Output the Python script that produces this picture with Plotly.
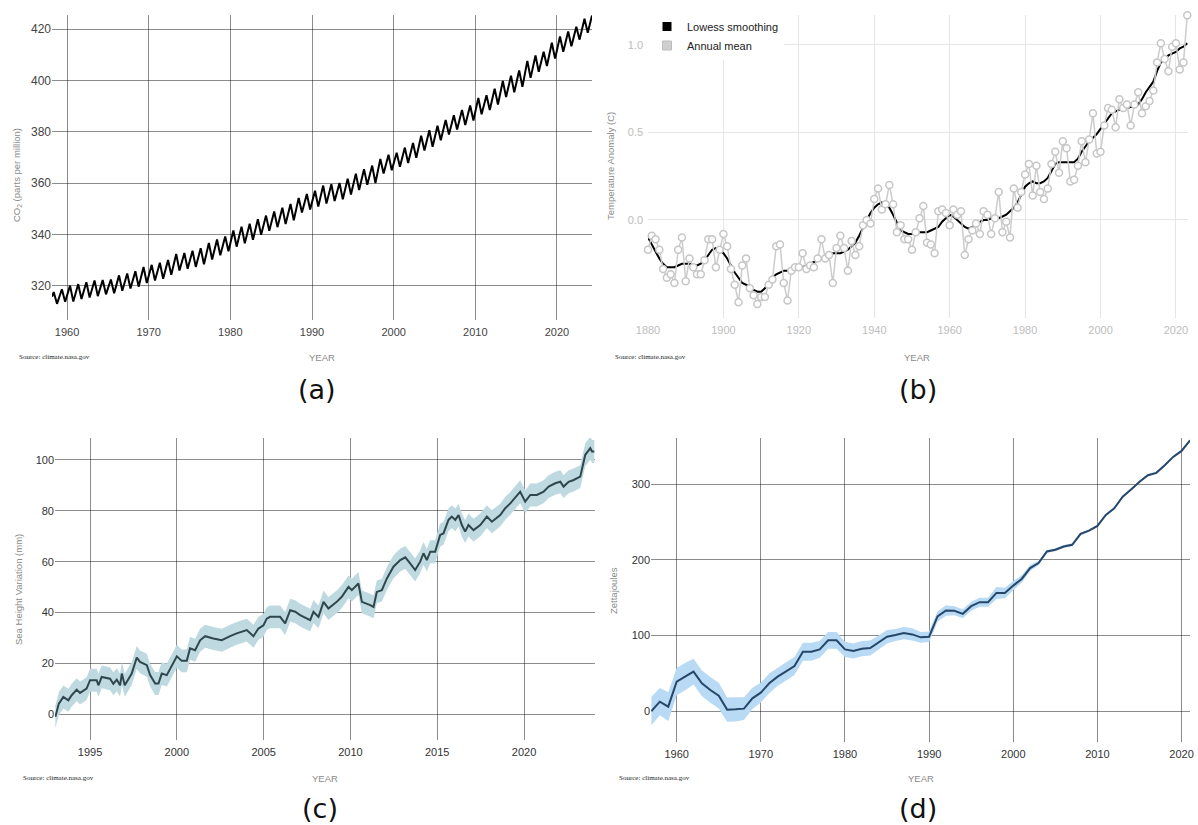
import plotly.graph_objects as go

# ---------------- (a) Atmospheric CO2, Mauna Loa ----------------
co2_years = list(range(1958, 2024))
# May maximum of each year (ppm)
co2_may_peak = [
    317.5, 318.6,
    320.0, 320.6, 321.3, 322.0, 322.2, 322.4, 324.0, 324.7, 325.6, 327.3,
    328.1, 328.9, 330.0, 332.3, 332.7, 333.6, 334.6, 336.6, 338.0, 339.2,
    341.5, 343.0, 344.1, 345.9, 347.3, 348.9, 350.4, 351.8, 354.2, 355.7,
    357.0, 359.0, 359.5, 360.0, 361.7, 363.6, 365.4, 366.8, 369.4, 371.0,
    371.8, 373.8, 375.6, 378.4, 380.6, 382.3, 384.6, 386.4, 388.5, 390.2,
    393.2, 394.2, 396.8, 399.8, 401.8, 403.9, 407.6, 409.7, 411.2, 414.7,
    417.1, 419.1, 420.9, 424.0,
]
# Autumn minimum of each year (ppm)
co2_autumn_low = [
    312.9, 313.7,
    313.8, 314.8, 315.4, 315.9, 316.6, 317.0, 318.0, 318.9, 319.6, 321.0,
    322.0, 322.7, 324.2, 325.9, 326.6, 327.3, 328.3, 330.2, 331.8, 333.4,
    335.2, 336.5, 337.9, 339.8, 341.4, 342.8, 344.0, 345.5, 348.5, 349.7,
    350.8, 352.0, 353.0, 353.7, 355.5, 357.3, 359.3, 360.0, 363.7, 365.0,
    366.3, 367.8, 369.8, 372.7, 374.1, 376.7, 378.9, 380.9, 382.6, 384.4,
    386.8, 388.5, 390.6, 393.5, 395.4, 397.5, 401.0, 403.4, 405.6, 408.5,
    411.2, 413.3, 415.9, 418.6,
]
co2_peak_month_frac = 0.37   # May
co2_low_month_frac = 0.77    # early October
co2_first_time, co2_first_value = 1958.17, 315.7   # March 1958
co2_last_time, co2_last_value = 2024.29, 425.3     # April 2024

# ---------------- (b) Global surface temperature anomaly ----------------
temp_years = list(range(1880, 2024))
temp_annual = [
    -0.17, -0.09, -0.11, -0.17, -0.28, -0.33, -0.31, -0.36, -0.17, -0.10,
    -0.35, -0.22, -0.27, -0.31, -0.31, -0.23, -0.11, -0.11, -0.27, -0.17,
    -0.08, -0.15, -0.28, -0.37, -0.47, -0.26, -0.22, -0.39, -0.43, -0.48,
    -0.44, -0.44, -0.37, -0.34, -0.15, -0.14, -0.36, -0.46, -0.29, -0.27,
    -0.27, -0.19, -0.28, -0.26, -0.27, -0.22, -0.11, -0.22, -0.20, -0.36,
    -0.16, -0.09, -0.16, -0.29, -0.12, -0.20, -0.15, -0.03, 0.00, -0.02,
    0.12, 0.18, 0.06, 0.09, 0.20, 0.09, -0.07, -0.03, -0.11, -0.11,
    -0.17, -0.07, 0.01, 0.08, -0.13, -0.14, -0.19, 0.05, 0.06, 0.04,
    -0.03, 0.06, 0.03, 0.05, -0.20, -0.11, -0.06, -0.02, -0.08, 0.05,
    0.03, -0.08, 0.01, 0.16, -0.07, -0.01, -0.10, 0.18, 0.07, 0.16,
    0.26, 0.32, 0.14, 0.31, 0.16, 0.12, 0.18, 0.32, 0.39, 0.27,
    0.45, 0.41, 0.22, 0.23, 0.31, 0.45, 0.33, 0.46, 0.61, 0.38,
    0.39, 0.54, 0.64, 0.63, 0.53, 0.69, 0.64, 0.66, 0.54, 0.66,
    0.73, 0.61, 0.65, 0.68, 0.74, 0.90, 1.01, 0.92, 0.85, 0.99,
    1.01, 0.86, 0.90, 1.17,
]
temp_lowess = [
    -0.10, -0.14, -0.18, -0.22, -0.25, -0.27, -0.27, -0.27, -0.26, -0.25,
    -0.25, -0.25, -0.26, -0.26, -0.25, -0.23, -0.20, -0.17, -0.16, -0.17,
    -0.19, -0.22, -0.26, -0.30, -0.33, -0.36, -0.37, -0.38, -0.40, -0.41,
    -0.41, -0.39, -0.36, -0.33, -0.31, -0.30, -0.29, -0.29, -0.28, -0.28,
    -0.27, -0.27, -0.26, -0.25, -0.24, -0.23, -0.22, -0.21, -0.20, -0.19,
    -0.19, -0.19, -0.18, -0.17, -0.15, -0.13, -0.09, -0.04, 0.00, 0.04,
    0.07, 0.09, 0.10, 0.09, 0.07, 0.03, -0.02, -0.06, -0.07, -0.08,
    -0.08, -0.08, -0.07, -0.07, -0.07, -0.06, -0.05, -0.04, -0.01, 0.01,
    0.03, 0.02, 0.00, -0.02, -0.04, -0.05, -0.04, -0.03, -0.01, 0.00,
    0.00, 0.01, 0.01, 0.01, 0.02, 0.03, 0.05, 0.07, 0.10, 0.15,
    0.19, 0.21, 0.22, 0.21, 0.21, 0.22, 0.24, 0.28, 0.32, 0.33,
    0.33, 0.33, 0.33, 0.33, 0.35, 0.39, 0.42, 0.45, 0.47, 0.49,
    0.52, 0.55, 0.58, 0.61, 0.62, 0.63, 0.63, 0.64, 0.645, 0.65,
    0.66, 0.69, 0.73, 0.76, 0.79, 0.85, 0.90, 0.92, 0.94, 0.95,
    0.96, 0.98, 0.99, 1.01,
]

# ---------------- (c) Satellite sea level ----------------
sea_time = [
    1993.0, 1993.2, 1993.46, 1993.75, 1993.94, 1994.23, 1994.42, 1994.8, 1995.0, 1995.38,
    1995.48, 1995.67, 1996.15, 1996.34, 1996.54, 1996.73, 1996.83, 1997.0, 1997.4, 1997.69,
    1997.88, 1998.27, 1998.46, 1998.75, 1998.94, 1999.13, 1999.42, 1999.71, 2000.0, 2000.28,
    2000.57, 2000.76, 2001.05, 2001.34, 2001.63, 2002.1, 2002.59, 2003.07, 2003.45, 2004.03,
    2004.41, 2004.7, 2004.99, 2005.18, 2005.37, 2005.95, 2006.24, 2006.53, 2006.82, 2007.1,
    2007.68, 2007.87, 2008.16, 2008.45, 2008.73, 2009.21, 2009.5, 2009.89, 2010.08, 2010.46,
    2010.66, 2011.14, 2011.33, 2011.52, 2011.81, 2012.1, 2012.48, 2012.87, 2013.16, 2013.44,
    2013.73, 2014.02, 2014.21, 2014.4, 2014.6, 2014.88, 2015.17, 2015.36, 2015.65, 2015.84,
    2016.04, 2016.23, 2016.42, 2016.61, 2016.8, 2017.09, 2017.48, 2017.86, 2018.15, 2018.63,
    2018.92, 2019.21, 2019.59, 2019.78, 2020.07, 2020.36, 2020.74, 2021.13, 2021.42, 2021.8,
    2022.09, 2022.28, 2022.57, 2022.86, 2023.24, 2023.53, 2023.82, 2023.92, 2024.05,
]
sea_mm = [
    -1, 4.2, 6.8, 5.5, 7.5, 9.7, 8.4, 10.1, 13.4, 13.4,
    11.4, 14.7, 14, 12, 13.6, 11.4, 16, 11.4, 16, 22.3,
    20.6, 19.3, 15.4, 12.1, 12.1, 16, 15.4, 19.3, 22.8, 21,
    21, 25.9, 25.2, 29.1, 30.7, 29.8, 29.1, 30.7, 31.8, 33.1,
    30.7, 33.7, 35, 37.6, 38.3, 38.3, 35.7, 40.9, 40.3, 39,
    37, 40.3, 38.3, 44.2, 41.6, 44.2, 46.2, 50.1, 48.8, 51.4,
    44.2, 42.9, 42.2, 48.1, 48.8, 53.4, 58, 60.6, 61.7, 59.3,
    56.7, 60, 63.3, 60.6, 63.9, 63.9, 70.5, 71.1, 76.4, 77.7,
    76.4, 78.3, 74.4, 71.8, 74.4, 72.4, 74.4, 77.7, 75.7, 78.3,
    81, 82.9, 86.2, 87.5, 83.6, 86.2, 86.2, 87.5, 89.5, 90.8,
    91.4, 89.5, 91.4, 92.1, 93.4, 102, 104.6, 103.3, 103.3,
]
sea_uncertainty_mm = 4.5

# ---------------- (d) Ocean heat content ----------------
ohc_years = list(range(1957, 2022))
ohc_zj = [
    0, 12.3, 5.7,
    38.8, 45.4, 52, 36.6, 27.8, 20.3, 1.8, 2.2, 3.1, 16.7,
    24.2, 36.6, 45.4, 52.4, 59.5, 78.4, 78.4, 81.5, 93.4, 93.4,
    81.5, 79.3, 82.4, 83.3, 90.7, 98.2, 100.4, 103, 101.3, 97.4,
    98.2, 125, 132.9, 132.5, 128.5, 138.6, 143.9, 143.9, 156.1, 156.1,
    165.8, 174.6, 189, 195.6, 211, 213.2, 217.5, 219.7, 234.2, 238.6,
    244.7, 259.2, 268, 283.3, 293, 303.1, 311.8, 314.9, 325, 336,
    343.9, 357.9,
]
ohc_err = [
    19, 18, 19,
    18, 18, 17, 17, 17, 17, 16, 16, 15, 14,
    13, 13, 12, 12, 12, 12, 12, 11, 11, 11,
    10, 10, 10, 10, 9, 9, 8, 8, 8, 7,
    7, 7, 7, 6, 6, 6, 6, 6, 8, 7,
    6, 5, 4, 3, 2, 2, 2, 2, 2, 1.5,
    1.5, 1.5, 1.5, 1.5, 1.5, 1.5, 1.5, 1.5, 1.5, 1.5,
    1.5, 1.5,
]

# ---------------- build the figure ----------------
W, H = 1198, 825
SANS = "Liberation Sans, Arial, sans-serif"
SERIF = "Liberation Serif, Times New Roman, serif"
DARK_GRID = "rgba(0,0,0,0.45)"
LIGHT_GRID = "#e6e6e6"


def px_x(p):
    return p / W


def px_y(p):
    return 1 - p / H


fig = go.Figure()

# (a) CO2 sawtooth
co2_x = [co2_first_time]
co2_y = [co2_first_value]
for yr, hi, lo in zip(co2_years, co2_may_peak, co2_autumn_low):
    co2_x += [yr + co2_peak_month_frac, yr + co2_low_month_frac]
    co2_y += [hi, lo]
co2_x.append(co2_last_time)
co2_y.append(co2_last_value)
fig.add_trace(go.Scatter(x=co2_x, y=co2_y, mode="lines",
                         line=dict(color="black", width=2),
                         xaxis="x", yaxis="y", showlegend=False))

# (b) temperature: smoothed curve beneath annual means
fig.add_trace(go.Scatter(x=temp_years, y=temp_lowess, mode="lines",
                         line=dict(color="black", width=2),
                         xaxis="x2", yaxis="y2", showlegend=False))
fig.add_trace(go.Scatter(x=temp_years, y=temp_annual, mode="lines+markers",
                         line=dict(color="#cccccc", width=1.5),
                         marker=dict(size=7, color="white",
                                     line=dict(color="#c6c6c6", width=1.5)),
                         cliponaxis=False,
                         xaxis="x2", yaxis="y2", showlegend=False))
# square legend keys
fig.add_trace(go.Scatter(x=[None], y=[None], mode="markers", name="Lowess smoothing",
                         marker=dict(symbol="square", size=9, color="black"),
                         xaxis="x2", yaxis="y2"))
fig.add_trace(go.Scatter(x=[None], y=[None], mode="markers", name="Annual mean",
                         marker=dict(symbol="square", size=9, color="#cfcfcf",
                                     line=dict(color="#bdbdbd", width=1)),
                         xaxis="x2", yaxis="y2"))

# (c) sea level with uncertainty band
fig.add_trace(go.Scatter(x=sea_time, y=[v - sea_uncertainty_mm for v in sea_mm],
                         mode="lines", line=dict(width=0, color="#b9d5de"),
                         xaxis="x3", yaxis="y3", showlegend=False))
fig.add_trace(go.Scatter(x=sea_time, y=[v + sea_uncertainty_mm for v in sea_mm],
                         mode="lines", line=dict(width=0, color="#b9d5de"),
                         fill="tonexty", fillcolor="#bfd9e1",
                         xaxis="x3", yaxis="y3", showlegend=False))
fig.add_trace(go.Scatter(x=sea_time, y=sea_mm, mode="lines",
                         line=dict(color="#2f474c", width=2),
                         xaxis="x3", yaxis="y3", showlegend=False))

# (d) ocean heat content with uncertainty band
fig.add_trace(go.Scatter(x=ohc_years, y=[v - e for v, e in zip(ohc_zj, ohc_err)],
                         mode="lines", line=dict(width=0, color="#b8daf4"),
                         xaxis="x4", yaxis="y4", showlegend=False))
fig.add_trace(go.Scatter(x=ohc_years, y=[v + e for v, e in zip(ohc_zj, ohc_err)],
                         mode="lines", line=dict(width=0, color="#b8daf4"),
                         fill="tonexty", fillcolor="#b8daf4",
                         xaxis="x4", yaxis="y4", showlegend=False))
fig.add_trace(go.Scatter(x=ohc_years, y=ohc_zj, mode="lines",
                         line=dict(color="#26476a", width=2),
                         xaxis="x4", yaxis="y4", showlegend=False))


def axis(domain, rng, tickvals, grid, tick_color, size=11, **kw):
    d = dict(domain=domain, range=rng, tickvals=tickvals, showgrid=True,
             gridcolor=grid, gridwidth=1, zeroline=False, showline=False,
             ticks="", tickfont=dict(family=SANS, size=size, color=tick_color),
             fixedrange=True, automargin=False)
    d.update(kw)
    return d


fig.update_layout(
    width=W, height=H, autosize=False,
    margin=dict(l=0, r=0, t=0, b=0, autoexpand=False),
    paper_bgcolor="white", plot_bgcolor="white",
    xaxis=axis([px_x(52), px_x(592)], [1958.16, 2024.29], list(range(1960, 2021, 10)),
               DARK_GRID, "#444", anchor="y", ticklabelstandoff=4),
    yaxis=axis([px_y(320), px_y(15)], [306.6, 425.5], list(range(320, 421, 20)),
               DARK_GRID, "#444", size=12, anchor="x"),
    xaxis2=axis([px_x(648), px_x(1188)], [1880, 2023.2], list(range(1880, 2021, 20)),
                LIGHT_GRID, "#bdbdbd", anchor="y2", ticklabelstandoff=4),
    yaxis2=axis([px_y(318), px_y(15)], [-0.56, 1.171], [0, 0.5, 1.0],
                LIGHT_GRID, "#bdbdbd", anchor="x2", ticktext=["0.0", "0.5", "1.0"],
                ticklabelstandoff=4),
    xaxis3=axis([px_x(55), px_x(595)], [1992.98, 2024.09], list(range(1995, 2021, 5)),
                DARK_GRID, "#333", anchor="y3", ticklabelstandoff=4),
    yaxis3=axis([px_y(740), px_y(438)], [-10.1, 108.6], list(range(0, 101, 20)),
                DARK_GRID, "#333", anchor="x3"),
    xaxis4=axis([px_x(651), px_x(1190)], [1956.95, 2021.0], list(range(1960, 2021, 10)),
                DARK_GRID, "#333", anchor="y4", ticklabelstandoff=4),
    yaxis4=axis([px_y(742), px_y(438)], [-41, 361], [0, 100, 200, 300],
                DARK_GRID, "#333", anchor="x4"),
    legend=dict(x=px_x(647), y=px_y(12), xanchor="left", yanchor="top",
                bgcolor="white", borderwidth=0, itemwidth=30, traceorder="normal",
                font=dict(family=SANS, size=11, color="#222")),
)

annotations = []


def note(text, x, y, size, color, family=SANS, angle=0, xanchor="center"):
    annotations.append(dict(text=text, x=px_x(x), y=px_y(y), xref="paper", yref="paper",
                            xanchor=xanchor, yanchor="middle", showarrow=False,
                            textangle=angle, font=dict(family=family, size=size, color=color)))


# axis titles
for x, y in [(322, 357), (917, 357), (325, 778), (921, 778)]:
    note("YEAR", x, y, 9.5, "#8a8a8a")
note("CO<sub>2</sub> (parts per million)", 17, 175, 9.5, "#8a8a8a", angle=-90)
note("Temperature Anomaly (C)", 611, 166, 9.5, "#8a8a8a", angle=-90)
note("Sea Height Variation (mm)", 18, 590, 9.5, "#8a8a8a", angle=-90)
note("Zettajoules", 613, 591, 9.5, "#8a8a8a", angle=-90)

# source credits
for x, y in [(17, 357), (613, 357), (21, 778), (617, 778)]:
    note("Source: climate.nasa.gov", x, y, 7, "#222", family=SERIF, xanchor="left")

# panel letters
for lab, x, y in [("(a)", 317, 390), ("(b)", 918, 390), ("(c)", 320, 808), ("(d)", 918, 808)]:
    note(lab, x, y, 27, "#111", family="DejaVu Sans, Verdana, sans-serif")

fig.update_layout(annotations=annotations)

fig.write_html("out.html")
